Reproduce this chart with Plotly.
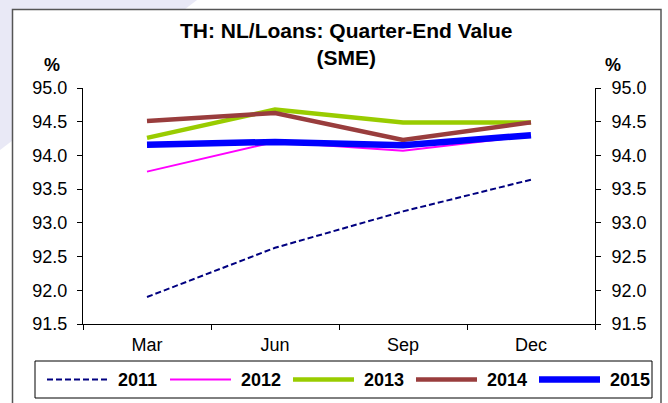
import plotly.graph_objects as go

# Quarter-end non-performing-loan ratio for SME lending, by year
quarters = ["Mar", "Jun", "Sep", "Dec"]
years = ["2011", "2012", "2013", "2014", "2015"]
v2011 = [91.90, 92.63, 93.17, 93.64]
v2012 = [93.76, 94.20, 94.07, 94.29]
v2013 = [94.26, 94.68, 94.49, 94.49]
v2014 = [94.51, 94.63, 94.23, 94.49]
v2015 = [94.16, 94.20, 94.15, 94.30]
y_ticks = [91.5, 92.0, 92.5, 93.0, 93.5, 94.0, 94.5, 95.0]

values = [v2011, v2012, v2013, v2014, v2015]
styles = [
    dict(color="#000080", width=2, dash="6px,3px"),
    dict(color="#FF00FF", width=2),
    dict(color="#99CC00", width=4.5),
    dict(color="#993D3D", width=4.5),
    dict(color="#0000FF", width=6.5),
]

W, H = 668, 403
L, R, T, B = 83, 595, 88, 324  # plot area in pixels


def px(x):
    return (x - L) / (R - L)


def py(y):
    return (B - y) / (B - T)


FONT = "Liberation Sans, Arial, sans-serif"

fig = go.Figure()
for name, vals, line in zip(years, values, styles):
    fig.add_trace(go.Scatter(x=quarters, y=vals, name=name, mode="lines",
                             line=line, hoverinfo="x+y+name", showlegend=False))

axis_common = dict(
    range=[91.5, 95.0], tickvals=y_ticks, tickformat=".1f",
    showline=True, linecolor="#000000", linewidth=1,
    ticks="outside", ticklen=5, tickcolor="#000000",
    showgrid=False, zeroline=False,
    tickfont=dict(family=FONT, size=18, color="#000000"),
)

fig.update_layout(
    width=W, height=H,
    margin=dict(l=L, r=W - R, t=T, b=H - B, autoexpand=False),
    paper_bgcolor="#FFFFFF", plot_bgcolor="rgba(0,0,0,0)",
    font=dict(family=FONT, color="#000000"),
    xaxis=dict(
        type="category", categoryorder="array", categoryarray=quarters,
        range=[-0.5, 3.5], tickson="boundaries",
        showline=True, linecolor="#000000", linewidth=1,
        ticks="outside", ticklen=5, tickcolor="#000000",
        showgrid=False, zeroline=False, ticklabelstandoff=4,
        tickfont=dict(family=FONT, size=18, color="#000000"),
    ),
    yaxis=dict(**axis_common, side="left", ticklabelstandoff=6),
    yaxis2=dict(**axis_common, side="right", overlaying="y", matches="y",
                ticklabelstandoff=7),
    showlegend=False,
)

# dummy trace so the right-hand axis is rendered
fig.add_trace(go.Scatter(x=[quarters[0]], y=[None], yaxis="y2",
                         showlegend=False, hoverinfo="skip"))

# faint decorative wedge behind the frame, then the white frame
fig.add_shape(type="path", xref="paper", yref="paper", layer="below",
              path=f"M {px(0)},{py(0)} L {px(197)},{py(0)} L {px(0)},{py(150)} Z",
              fillcolor="#E9E9F6", line=dict(width=0))
fig.add_shape(type="rect", xref="paper", yref="paper", layer="below",
              x0=px(12.5), x1=px(661), y0=py(9.5), y1=py(420),
              fillcolor="#FFFFFF", line=dict(color="#555555", width=1.5))

# legend row: boxed, one swatch + bold label per year
LEG_L, LEG_R, LEG_T, LEG_B = 35, 652, 361, 398
LEG_Y = (LEG_T + LEG_B) / 2
fig.add_shape(type="rect", xref="paper", yref="paper",
              x0=px(LEG_L), x1=px(LEG_R), y0=py(LEG_T), y1=py(LEG_B),
              fillcolor="#FFFFFF", line=dict(color="#000000", width=1))
for i, (name, line) in enumerate(zip(years, styles)):
    x0 = 47 + 123 * i
    fig.add_shape(type="line", xref="paper", yref="paper",
                  x0=px(x0), x1=px(x0 + 61), y0=py(LEG_Y), y1=py(LEG_Y),
                  line=line)
    fig.add_annotation(text=f"<b>{name}</b>", xref="paper", yref="paper",
                       x=px(x0 + 69), y=py(LEG_Y), xanchor="left", yanchor="middle",
                       showarrow=False,
                       font=dict(family=FONT, size=18, color="#000000"))

fig.add_annotation(text="TH: NL/Loans: Quarter-End Value<br>(SME)",
                   xref="paper", yref="paper", x=px(346), y=py(44),
                   xanchor="center", yanchor="middle", showarrow=False,
                   font=dict(family=FONT, size=21, color="#000000", weight="bold"))
for xp in (52, 613):
    fig.add_annotation(text="%", xref="paper", yref="paper", x=px(xp), y=py(65),
                       xanchor="center", yanchor="middle", showarrow=False,
                       font=dict(family=FONT, size=18, color="#000000", weight="bold"))

fig.write_html("out.html")
